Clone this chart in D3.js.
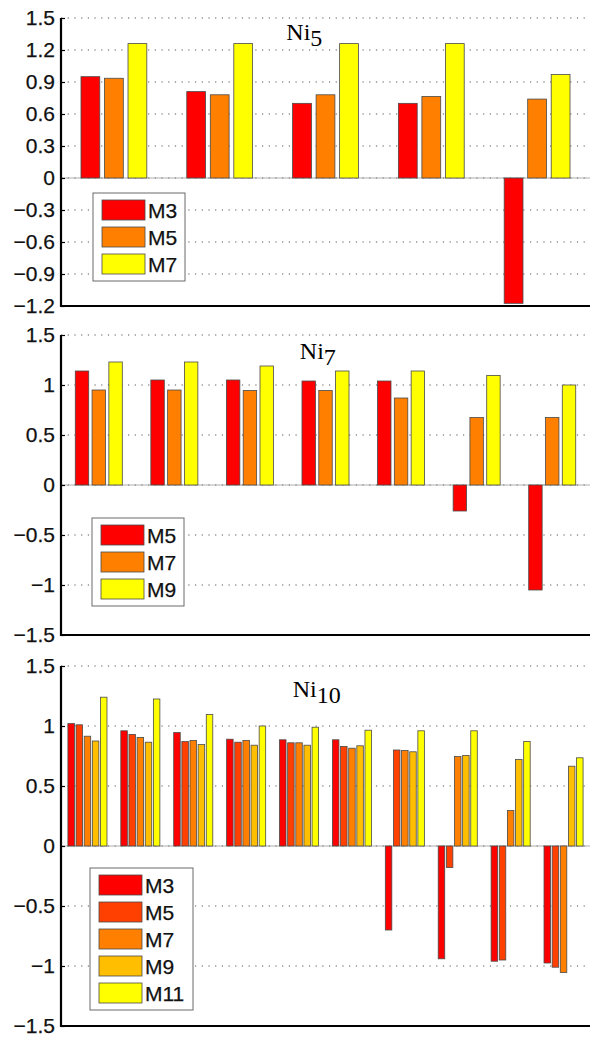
<!DOCTYPE html>
<html>
<head>
<meta charset="utf-8">
<script src="https://cdn.jsdelivr.net/npm/d3@7"></script>
<style>
  body { margin: 0; background: #fff; }
  svg { display: block; }
</style>
</head>
<body>
<svg id="chart" width="591" height="1037"></svg>
<script>

// ---- data ----

// Ni5
const ni5Series = ["M3", "M5", "M7"]
const ni5M3 = [0.95, 0.81, 0.70, 0.70, -1.175]
const ni5M5 = [0.935, 0.78, 0.78, 0.765, 0.74]
const ni5M7 = [1.26, 1.26, 1.26, 1.26, 0.97]
const ni5Ticks = [1.5, 1.2, 0.9, 0.6, 0.3, 0, -0.3, -0.6, -0.9, -1.2]

// Ni7
const ni7Series = ["M5", "M7", "M9"]
const ni7M5 = [1.14, 1.05, 1.05, 1.04, 1.04, -0.26, -1.05]
const ni7M7 = [0.95, 0.95, 0.945, 0.945, 0.87, 0.675, 0.675]
const ni7M9 = [1.23, 1.23, 1.19, 1.14, 1.14, 1.095, 1.0]
const ni7Ticks = [1.5, 1, 0.5, 0, -0.5, -1, -1.5]

// Ni10
const ni10Series = ["M3", "M5", "M7", "M9", "M11"]
const ni10M3 = [1.02, 0.96, 0.945, 0.89, 0.885, 0.885, -0.70, -0.94, -0.96, -0.975]
const ni10M5 = [1.01, 0.93, 0.87, 0.865, 0.86, 0.83, 0.80, -0.18, -0.95, -1.01]
const ni10M7 = [0.915, 0.905, 0.88, 0.88, 0.86, 0.815, 0.795, 0.745, 0.295, -1.055]
const ni10M9 = [0.875, 0.865, 0.845, 0.84, 0.84, 0.835, 0.785, 0.755, 0.72, 0.665]
const ni10M11 = [1.24, 1.225, 1.095, 1.0, 0.99, 0.965, 0.96, 0.96, 0.87, 0.735]
const ni10Ticks = [1.5, 1, 0.5, 0, -0.5, -1, -1.5]

// autumn colormap, as MATLAB picks it for 3 and 5 series
const colors3 = ["#ff0000", "#ff8000", "#ffff00"]
const colors5 = ["#ff0000", "#ff4000", "#ff8000", "#ffbf00", "#ffff00"]


const svg = d3.select("#chart")
const plotLeft = 61, plotRight = 590
const sansFont = "'Liberation Sans', Arial, Helvetica, sans-serif"

    /*  one panel of grouped bars
     *      cfg.values : one array per series
     *      cfg.top / cfg.bottom : pixel rows of the y domain ends
     */
function drawPanel(cfg) {
    const nGroups = cfg.values[0].length
    const nSeries = cfg.values.length
    const groups = d3.range(nGroups)

    const y = d3.scaleLinear()
        .domain([cfg.ticks[cfg.ticks.length - 1], cfg.ticks[0]])
        .range([cfg.bottom, cfg.top])

    const x = d3.scaleBand()
        .domain(groups)
        .range([plotLeft, plotRight])
        .padding(0)

    // MATLAB grouped bar width rule
    const groupWidth = Math.min(0.8, nSeries / (nSeries + 1.5)) * x.bandwidth()
    const xInner = d3.scaleBand()
        .domain(d3.range(nSeries))
        .range([(x.bandwidth() - groupWidth) / 2, (x.bandwidth() + groupWidth) / 2])
        .paddingInner(0.2)
        .paddingOuter(0.1)

    const g = svg.append("g")

    // dotted grid
    g.append("g")
        .selectAll("line")
        .data(cfg.ticks)
        .enter().append("line")
            .attr("x1", plotLeft)
            .attr("x2", plotRight)
            .attr("y1", d => y(d))
            .attr("y2", d => y(d))
            .attr("stroke", "#555")
            .attr("stroke-width", 1)
            .attr("stroke-dasharray", "1.2,5.5")

    // baseline at zero
    g.append("line")
        .attr("x1", plotLeft)
        .attr("x2", plotRight)
        .attr("y1", y(0))
        .attr("y2", y(0))
        .attr("stroke", "#9a9a9a")
        .attr("stroke-width", 0.8)

    // bars
    const rows = []
    cfg.values.forEach((vals, s) => vals.forEach((v, i) => rows.push({s: s, i: i, v: v})))

    g.append("g")
        .selectAll("rect")
        .data(rows)
        .enter().append("rect")
            .attr("x", d => x(d.i) + xInner(d.s))
            .attr("width", xInner.bandwidth())
            .attr("y", d => y(Math.max(0, d.v)))
            .attr("height", d => Math.abs(y(d.v) - y(0)))
            .attr("fill", d => cfg.colors[d.s])
            .attr("stroke", "#4a4a4a")
            .attr("stroke-width", 0.8)

    // left axis, ticks pointing inward like MATLAB
    const fmt = d3.format("")
    g.append("g")
        .attr("transform", "translate(" + plotLeft + ",0)")
        .call(d3.axisLeft(y).tickValues(cfg.ticks).tickSize(-4).tickPadding(6)
              .tickFormat(d => fmt(d)))
        .call(a => a.select(".domain").attr("stroke-width", 2.2).attr("d", "M0," + cfg.top + "V" + (cfg.bottom + 1)))
        .call(a => a.selectAll(".tick line").attr("stroke-width", 1.2))
        .call(a => a.selectAll(".tick text")
            .attr("font-family", sansFont)
            .attr("font-size", 21)
            .attr("fill", "#111")
            .attr("stroke", "#111")
            .attr("stroke-width", 0.25))

    // bottom axis line
    g.append("line")
        .attr("x1", plotLeft - 1)
        .attr("x2", plotRight)
        .attr("y1", cfg.bottom)
        .attr("y2", cfg.bottom)
        .attr("stroke", "#000")
        .attr("stroke-width", 2.2)

    // title
    const title = g.append("text")
        .attr("x", x(0) + cfg.titleX * x.bandwidth())
        .attr("y", y(cfg.titleY))
        .attr("font-family", "'Liberation Serif', 'Times New Roman', serif")
        .attr("font-size", 24)
    title.append("tspan").text("Ni")
    title.append("tspan").attr("dy", 6).text(cfg.sub)

    // legend
    const lg = g.append("g")
        .attr("transform", "translate(" + cfg.legendX + "," + cfg.legendY + ")")
    const rowH = 27
    lg.append("rect")
        .attr("x", 0)
        .attr("y", 0)
        .attr("width", cfg.legendW)
        .attr("height", nSeries * rowH + 7)
        .attr("fill", "#fff")
        .attr("stroke", "#6a6a6a")
        .attr("stroke-width", 1)
    const item = lg.selectAll("g.item")
        .data(cfg.names)
        .enter().append("g")
            .attr("class", "item")
            .attr("transform", (d, i) => "translate(9," + (7 + i * rowH) + ")")
    item.append("rect")
        .attr("width", 43)
        .attr("height", 20)
        .attr("fill", (d, i) => cfg.colors[i])
        .attr("stroke", "#4a4a4a")
        .attr("stroke-width", 0.8)
    item.append("text")
        .attr("x", 46)
        .attr("y", 18)
        .attr("font-family", sansFont)
        .attr("font-size", 21)
        .attr("fill", "#111")
        .attr("stroke", "#111")
        .attr("stroke-width", 0.25)
        .text(d => d)
}


drawPanel({
    values: [ni5M3, ni5M5, ni5M7], names: ni5Series, colors: colors3, ticks: ni5Ticks,
    top: 18, bottom: 306, sub: "5", titleX: 2.13, titleY: 1.29,
    legendX: 93, legendY: 193, legendW: 92
})

drawPanel({
    values: [ni7M5, ni7M7, ni7M9], names: ni7Series, colors: colors3, ticks: ni7Ticks,
    top: 335, bottom: 635, sub: "7", titleX: 3.16, titleY: 1.26,
    legendX: 92, legendY: 518, legendW: 92
})

drawPanel({
    values: [ni10M3, ni10M5, ni10M7, ni10M9, ni10M11], names: ni10Series, colors: colors5, ticks: ni10Ticks,
    top: 666, bottom: 1026, sub: "10", titleX: 4.38, titleY: 1.24,
    legendX: 90, legendY: 868, legendW: 103
})

</script>
</body>
</html>
